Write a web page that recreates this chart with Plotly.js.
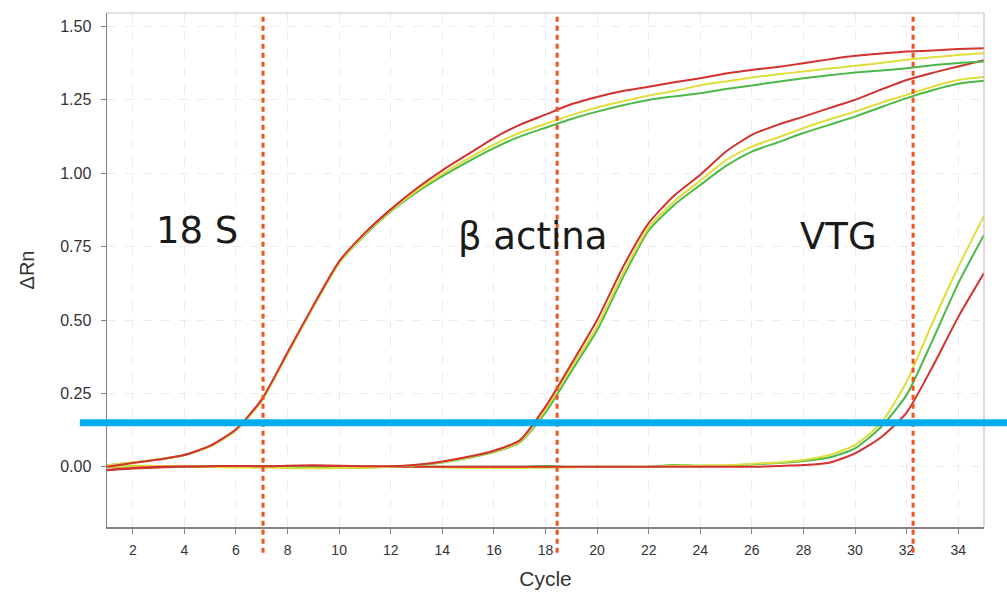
<!DOCTYPE html>
<html>
<head>
<meta charset="utf-8">
<script src="https://cdn.plot.ly/plotly-3.0.1.min.js"></script>
<style>html,body{margin:0;padding:0;background:#fff;}#chart{width:1007px;height:595px;}</style>
</head>
<body>
<div id="chart"></div>
<script>
// Cycles
const cycles = [1,2,3,4,5,6,7,8,9,10,11,12,13,14,15,16,17,18,19,20,21,22,23,24,25,26,27,28,29,30,31,32,33,34,35];

// 18S amplification curves (ΔRn)
const s18Green  = [0.005,0.015,0.025,0.04,0.07,0.125,0.225,0.385,0.545,0.695,0.79,0.87,0.935,0.99,1.04,1.086,1.125,1.155,1.185,1.21,1.232,1.25,1.262,1.273,1.287,1.299,1.312,1.324,1.334,1.343,1.35,1.358,1.368,1.376,1.381];
const s18Yellow = [0.005,0.015,0.025,0.04,0.07,0.125,0.225,0.385,0.545,0.695,0.792,0.872,0.94,0.998,1.05,1.098,1.138,1.168,1.198,1.224,1.245,1.265,1.28,1.3,1.313,1.326,1.337,1.347,1.357,1.366,1.376,1.387,1.395,1.403,1.409];
const s18Red    = [0.0,0.013,0.025,0.04,0.072,0.128,0.23,0.39,0.55,0.7,0.797,0.877,0.948,1.01,1.065,1.12,1.165,1.2,1.235,1.26,1.28,1.295,1.31,1.324,1.34,1.352,1.362,1.375,1.388,1.4,1.408,1.415,1.418,1.423,1.426];

// β actina amplification curves
const actGreen  = [0.0,0.002,0.003,0.002,0.001,0.0,0.001,0.0,-0.002,-0.003,-0.002,0.0,0.005,0.015,0.03,0.05,0.083,0.185,0.325,0.465,0.645,0.805,0.893,0.96,1.025,1.074,1.105,1.137,1.165,1.193,1.225,1.256,1.283,1.305,1.315];
const actYellow = [0.0,0.002,0.003,0.002,0.0,-0.002,-0.003,-0.004,-0.005,-0.004,-0.003,0.0,0.006,0.016,0.032,0.052,0.086,0.195,0.338,0.478,0.658,0.815,0.905,0.975,1.045,1.091,1.122,1.154,1.183,1.21,1.24,1.267,1.295,1.318,1.328];
const actRed    = [-0.01,-0.004,0.0,0.001,0.002,0.003,0.002,0.004,0.005,0.004,0.002,0.002,0.007,0.018,0.034,0.055,0.09,0.205,0.35,0.5,0.68,0.83,0.925,0.995,1.074,1.131,1.165,1.193,1.222,1.25,1.285,1.318,1.342,1.364,1.385];

// VTG amplification curves
const vtgGreen  = [0.0,0.002,0.003,0.002,0.0,0.0,0.0,0.0,0.0,0.0,0.0,0.0,0.0,0.0,0.0,0.0,0.0,0.003,0.0,0.0,0.0,0.0,0.006,0.004,0.004,0.008,0.013,0.02,0.032,0.063,0.135,0.245,0.43,0.625,0.79];
const vtgYellow = [0.004,0.004,0.003,0.002,0.0,0.0,0.0,-0.002,-0.003,-0.003,-0.002,0.0,0.0,-0.002,-0.004,-0.004,-0.004,-0.003,-0.002,0.0,0.0,0.0,0.004,0.004,0.005,0.01,0.015,0.023,0.04,0.075,0.148,0.29,0.49,0.68,0.855];
const vtgRed    = [-0.012,-0.006,-0.002,0.0,0.001,0.002,0.001,0.0,0.0,0.001,0.0,0.0,0.0,0.0,0.0,0.0,0.0,0.0,0.0,0.0,0.0,0.0,0.0,0.0,0.0,0.0,0.003,0.006,0.014,0.046,0.1,0.185,0.34,0.51,0.66];

// Threshold and Ct markers
const threshold = 0.15;
const ctLines = [7.05, 18.45, 32.25];

// Gene labels
const geneLabels = ["18 S", "β actina", "VTG"];
const geneLabelX = [4.5, 17.5, 29.35];
const geneLabelY = [0.805, 0.785, 0.785];

const xTicks = [2,4,6,8,10,12,14,16,18,20,22,24,26,28,30,32,34];
const yTicks = [0, 0.25, 0.5, 0.75, 1.0, 1.25, 1.5];

const colGreen = '#4cb849', colYellow = '#dede3c', colRed = '#d2312f';

function tr(y, c) {
  return {x: cycles, y: y, type: 'scatter', mode: 'lines', line: {color: c, width: 2, shape: 'spline', smoothing: 0.6}, hoverinfo: 'skip', showlegend: false};
}
const data = [
  tr(vtgGreen, colGreen), tr(vtgYellow, colYellow), tr(vtgRed, colRed),
  tr(actGreen, colGreen), tr(actYellow, colYellow), tr(actRed, colRed),
  tr(s18Green, colGreen), tr(s18Yellow, colYellow), tr(s18Red, colRed)
];

const shapes = [];
// top & right light border
shapes.push({type:'line', xref:'paper', yref:'paper', x0:0, x1:1, y0:1, y1:1, line:{color:'#c9c6c6', width:1}});
shapes.push({type:'line', xref:'paper', yref:'paper', x0:1, x1:1, y0:0, y1:1, line:{color:'#b9b4b4', width:1}});
ctLines.forEach(v => shapes.push({type:'line', xref:'x', yref:'paper', x0:v, x1:v, y0:-0.05, y1:1, line:{color:'#f2521d', width:3, dash:'5px,4px'}}));
shapes.push({type:'line', xref:'paper', yref:'y', x0:-0.031, x1:1.03, y0:threshold, y1:threshold, line:{color:'#00aeef', width:7}});

const annotations = geneLabels.map((t,i) => ({
  text: t, x: geneLabelX[i], y: geneLabelY[i], xref:'x', yref:'y', showarrow:false,
  font:{family:'DejaVu Sans', size:37, color:'#1a1a1a'}
}));

const layout = {
  width: 1007, height: 595,
  margin: {l:107, r:23, t:13, b:68},
  paper_bgcolor:'#ffffff', plot_bgcolor:'#ffffff',
  showlegend:false,
  xaxis: {
    range:[1,35], tickvals:xTicks, ticks:'outside', ticklen:5, tickcolor:'#8a8080',
    showline:true, linecolor:'#8a8080', linewidth:1.5, zeroline:false,
    showgrid:true, gridcolor:'#ececec', griddash:'dash', gridwidth:1,
    ticklabelstandoff: 5,
    tickfont:{family:'Liberation Sans, Arial', size:14, color:'#333'},
    title:{text:'Cycle', font:{family:'Liberation Sans, Arial', size:21, color:'#333'}, standoff:14}
  },
  yaxis: {
    range:[-0.205,1.546], tickvals:yTicks, tickformat:'.2f', ticks:'outside', ticklen:5, tickcolor:'#8a8080',
    showline:true, linecolor:'#8a8080', linewidth:1.5, zeroline:false,
    showgrid:true, gridcolor:'#ececec', griddash:'dash', gridwidth:1,
    ticklabelstandoff: 6,
    tickfont:{family:'Liberation Sans, Arial', size:16, color:'#333'},
    title:{text:'ΔRn', font:{family:'Liberation Sans, Arial', size:20, color:'#333'}, standoff:20}
  },
  shapes: shapes,
  annotations: annotations
};

Plotly.newPlot('chart', data, layout, {staticPlot:true, displayModeBar:false});
</script>
</body>
</html>
